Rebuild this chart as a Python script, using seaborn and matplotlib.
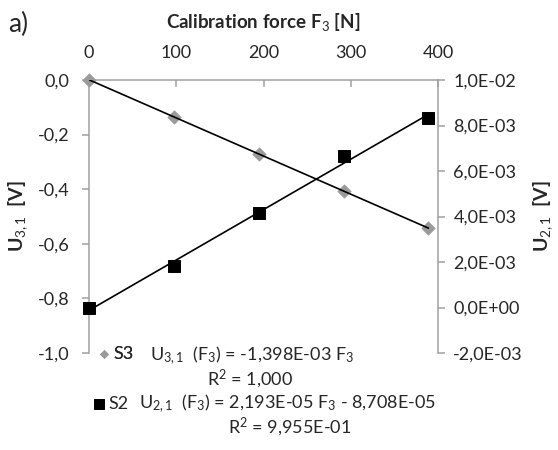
import numpy as np
import pandas as pd
import seaborn as sns
import matplotlib
matplotlib.use("Agg")
import matplotlib.pyplot as plt
from matplotlib.ticker import FuncFormatter

# data
force = [0, 97, 195, 292, 389]                      # F3 [N]
u31 = [0.0, -0.134, -0.271, -0.407, -0.543]           # S3, left axis [V]
u21 = [-0.00003, 0.00182, 0.00414, 0.00667, 0.00832]  # S2, right axis [V]

left_ticks = [0.0, -0.2, -0.4, -0.6, -0.8, -1.0]
right_ticks = [-0.002, 0.0, 0.002, 0.004, 0.006, 0.008, 0.010]
x_ticks = [0, 100, 200, 300, 400]

eq_s3 = r"U$_{3,1}$  (F$_3$) = -1,398E-03 F$_3$"
r2_s3 = r"R$^2$ = 1,000"
eq_s2 = r"U$_{2,1}$  (F$_3$) = 2,193E-05 F$_3$ - 8,708E-05"
r2_s2 = r"R$^2$ = 9,955E-01"

df = pd.DataFrame({"force": force, "u31": u31, "u21": u21})

sns.set_style("white")
plt.rcParams["font.family"] = ["Lato", "DejaVu Sans"]
plt.rcParams["mathtext.fontset"] = "custom"
plt.rcParams["mathtext.rm"] = "Lato"
plt.rcParams["mathtext.it"] = "Lato"
plt.rcParams["mathtext.bf"] = "Lato:bold"

grey = "#a0a0a0"
fig = plt.figure(figsize=(5.58, 4.5), dpi=100)
ax = fig.add_axes([89 / 558, 1 - 353 / 450, 349 / 558, 273 / 450])
ax2 = ax.twinx()

# S3 on left axis
sns.scatterplot(data=df, x="force", y="u31", ax=ax, marker="D", s=46,
                color="#9a9a9a", edgecolor="#9a9a9a", linewidth=0.5,
                clip_on=False, zorder=3, label="S3", legend=False)
sns.regplot(data=df, x="force", y="u31", ax=ax, scatter=False, ci=None,
            truncate=True, color="black", line_kws={"lw": 1.2, "zorder": 4})

# S2 on right axis
sns.scatterplot(data=df, x="force", y="u21", ax=ax2, marker="s", s=75,
                color="black", edgecolor="black", clip_on=False, zorder=3,
                label="S2", legend=False)
sns.regplot(data=df, x="force", y="u21", ax=ax2, scatter=False, ci=None,
            truncate=True, color="black", line_kws={"lw": 1.2, "zorder": 4})

ax.set_xlim(0, 400)
ax.set_ylim(-1.0, 0.0)
ax2.set_ylim(-0.002, 0.010)
ax.set_xticks(x_ticks)
ax.set_yticks(left_ticks)
ax2.set_yticks(right_ticks)
ax.yaxis.set_major_formatter(FuncFormatter(lambda v, p: f"{v:.1f}".replace(".", ",")))
ax2.yaxis.set_major_formatter(FuncFormatter(lambda v, p: f"{v:.1E}".replace(".", ",")))

ax.xaxis.tick_top()
ax.xaxis.set_label_position("top")
ax.set_xlabel(r"Calibration force F$_3$ [N]", fontsize=13.5, fontweight="bold", labelpad=12)
ax.set_ylabel(r"U$_{3,1}$  [V]", fontsize=14, fontweight="bold", ha="center", va="center")
ax2.set_ylabel(r"U$_{2,1}$  [V]", fontsize=14, fontweight="bold", ha="center", va="center")
ax.yaxis.set_label_coords((18 - 89) / 349, 0.5)
ax2.yaxis.set_label_coords((543 - 89) / 349, 0.5)

for a in (ax, ax2):
    a.patch.set_visible(False)
    for side in a.spines:
        a.spines[side].set_color(grey)
        a.spines[side].set_linewidth(1.1)
    a.spines["bottom"].set_visible(False)
ax.spines["right"].set_visible(False)
ax2.spines["left"].set_visible(False)
ax2.spines["top"].set_visible(False)

ax.tick_params(axis="x", which="both", top=True, bottom=False, direction="in",
               length=5, width=1.1, color=grey, labelsize=13, pad=14)
ax.tick_params(axis="y", left=True, direction="out", length=5, width=1.1,
               color=grey, labelsize=13, pad=9)
ax2.tick_params(axis="y", right=True, direction="out", length=5, width=1.1,
                color=grey, labelsize=13, pad=6)
ax2.tick_params(axis="x", top=False, bottom=False, labeltop=False, labelbottom=False)

fig.text(8 / 558, 1 - 24 / 450, "a)", fontsize=19, va="center", ha="left")

# legend entries with trendline equations
h3 = ax.collections[0]
h2 = ax2.collections[0]
leg1 = fig.legend([h3], ["S3"], loc="center left", bbox_to_anchor=(97 / 558, 1 - 354 / 450),
                  frameon=False, fontsize=13, handletextpad=0.1, handlelength=0.8,
                  markerscale=0.6, borderpad=0, borderaxespad=0)
leg2 = fig.legend([h2], ["S2"], loc="center left", bbox_to_anchor=(92 / 558, 1 - 404 / 450),
                  frameon=False, fontsize=13, handletextpad=0.1, handlelength=0.8,
                  markerscale=0.75, borderpad=0, borderaxespad=0)
fig.add_artist(leg1)

fig.text(150 / 558, 1 - 356 / 450, eq_s3, fontsize=13, va="center", ha="left")
fig.text(250 / 558, 1 - 379 / 450, r2_s3, fontsize=13, va="center", ha="center")
fig.text(139 / 558, 1 - 404 / 450, eq_s2, fontsize=13, va="center", ha="left")
fig.text(290 / 558, 1 - 427 / 450, r2_s2, fontsize=13, va="center", ha="center")

fig.savefig("out.png", dpi=100)
